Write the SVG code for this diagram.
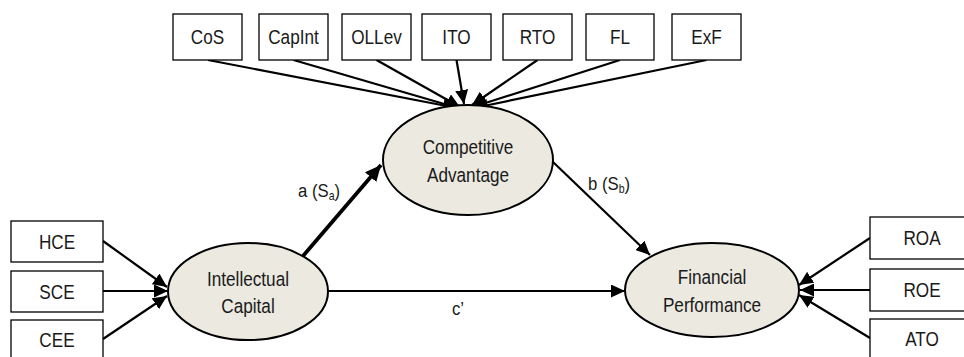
<svg xmlns="http://www.w3.org/2000/svg" width="964" height="357" viewBox="0 0 964 357">
<defs>
<marker id="ah" markerUnits="userSpaceOnUse" markerWidth="15" markerHeight="13" refX="14" refY="6.5" orient="auto"><path d="M0,0 L14,6.5 L0,13 Z" fill="#000"/></marker>
<marker id="ahb" markerUnits="userSpaceOnUse" markerWidth="17" markerHeight="15" refX="16" refY="7.5" orient="auto"><path d="M0,0 L16,7.5 L0,15 Z" fill="#000"/></marker>
</defs>
<style>
.box{fill:#fff;stroke:#000;stroke-width:1.3}
.ell{fill:#EBE9E0;stroke:#000;stroke-width:2}
.t{font-family:"Liberation Sans",Arial,sans-serif;font-size:19.5px;fill:#1a1a1a;text-anchor:middle;dominant-baseline:central}
.c{stroke:#000;stroke-width:2.2;fill:none;marker-end:url(#ah)}
.lbl{font-family:"Liberation Sans",Arial,sans-serif;font-size:19px;fill:#1a1a1a}
</style>
<rect width="964" height="357" fill="#fff"/>
<g id="connectors">
<line class="c" x1="208" y1="60" x2="457" y2="108"/>
<line class="c" x1="293.5" y1="60" x2="458" y2="108"/>
<line class="c" x1="376.5" y1="60" x2="460" y2="107"/>
<line class="c" x1="456.5" y1="60" x2="464" y2="104"/>
<line class="c" x1="537.5" y1="60" x2="472" y2="105"/>
<line class="c" x1="620" y1="60" x2="473" y2="107"/>
<line class="c" x1="706.5" y1="60" x2="474" y2="108"/>
<line class="c" x1="103" y1="241" x2="167" y2="287"/>
<line class="c" x1="103" y1="291" x2="168" y2="291"/>
<line class="c" x1="103" y1="339" x2="167" y2="296"/>
<line class="c" x1="870" y1="238" x2="799" y2="285"/>
<line class="c" x1="870" y1="290" x2="800" y2="290"/>
<line class="c" x1="870" y1="338" x2="799" y2="295"/>
<line x1="303" y1="256" x2="381" y2="165" stroke="#000" stroke-width="3.8" marker-end="url(#ahb)"/>
<line class="c" x1="553" y1="162" x2="650" y2="255"/>
<line class="c" x1="328" y1="291" x2="625" y2="291"/>
<text class="lbl" transform="translate(298,197) scale(0.88,1)">a (S<tspan font-size="12" dy="3">a</tspan><tspan dy="-3">)</tspan></text>
<text class="lbl" transform="translate(588,190) scale(0.88,1)">b (S<tspan font-size="12" dy="3">b</tspan><tspan dy="-3">)</tspan></text>
<text class="lbl" transform="translate(452,315) scale(0.88,1)">c’</text>
</g>
<g id="CoS"><rect class="box" x="173" y="14" width="69" height="46"/><text class="t" transform="translate(207.5,37) scale(0.88,1)">CoS</text></g>
<g id="CapInt"><rect class="box" x="259" y="14" width="69" height="46"/><text class="t" transform="translate(293.5,37) scale(0.88,1)">CapInt</text></g>
<g id="OLLev"><rect class="box" x="342" y="14" width="69" height="46"/><text class="t" transform="translate(376.5,37) scale(0.88,1)">OLLev</text></g>
<g id="ITO"><rect class="box" x="422" y="14" width="69" height="46"/><text class="t" transform="translate(456.5,37) scale(0.88,1)">ITO</text></g>
<g id="RTO"><rect class="box" x="503" y="14" width="69" height="46"/><text class="t" transform="translate(537.5,37) scale(0.88,1)">RTO</text></g>
<g id="FL"><rect class="box" x="586" y="14" width="68" height="46"/><text class="t" transform="translate(620,37) scale(0.88,1)">FL</text></g>
<g id="ExF"><rect class="box" x="672" y="14" width="69" height="46"/><text class="t" transform="translate(706.5,37) scale(0.88,1)">ExF</text></g>
<g id="HCE"><rect class="box" x="11" y="221" width="92" height="41"/><text class="t" transform="translate(57,242) scale(0.88,1)">HCE</text></g>
<g id="SCE"><rect class="box" x="11" y="271" width="92" height="41"/><text class="t" transform="translate(57,292) scale(0.88,1)">SCE</text></g>
<g id="CEE"><rect class="box" x="11" y="320" width="92" height="45"/><text class="t" transform="translate(57,340) scale(0.88,1)">CEE</text></g>
<g id="ROA"><rect class="box" x="870" y="217" width="104" height="42"/><text class="t" transform="translate(922,238) scale(0.88,1)">ROA</text></g>
<g id="ROE"><rect class="box" x="870" y="269" width="104" height="42"/><text class="t" transform="translate(922,290) scale(0.88,1)">ROE</text></g>
<g id="ATO"><rect class="box" x="870" y="319" width="104" height="45"/><text class="t" transform="translate(922,339) scale(0.88,1)">ATO</text></g>
<g id="CompetitiveAdvantage"><ellipse class="ell" cx="468" cy="160" rx="85" ry="55"/><text class="t" transform="translate(468,147) scale(0.88,1)">Competitive</text><text class="t" transform="translate(468,175) scale(0.88,1)">Advantage</text></g>
<g id="IntellectualCapital"><ellipse class="ell" cx="248" cy="291.5" rx="80" ry="48.5"/><text class="t" transform="translate(248,279) scale(0.88,1)">Intellectual</text><text class="t" transform="translate(248,306) scale(0.88,1)">Capital</text></g>
<g id="FinancialPerformance"><ellipse class="ell" cx="712" cy="290" rx="87" ry="47"/><text class="t" transform="translate(712,277) scale(0.88,1)">Financial</text><text class="t" transform="translate(712,305) scale(0.88,1)">Performance</text></g>
</svg>
